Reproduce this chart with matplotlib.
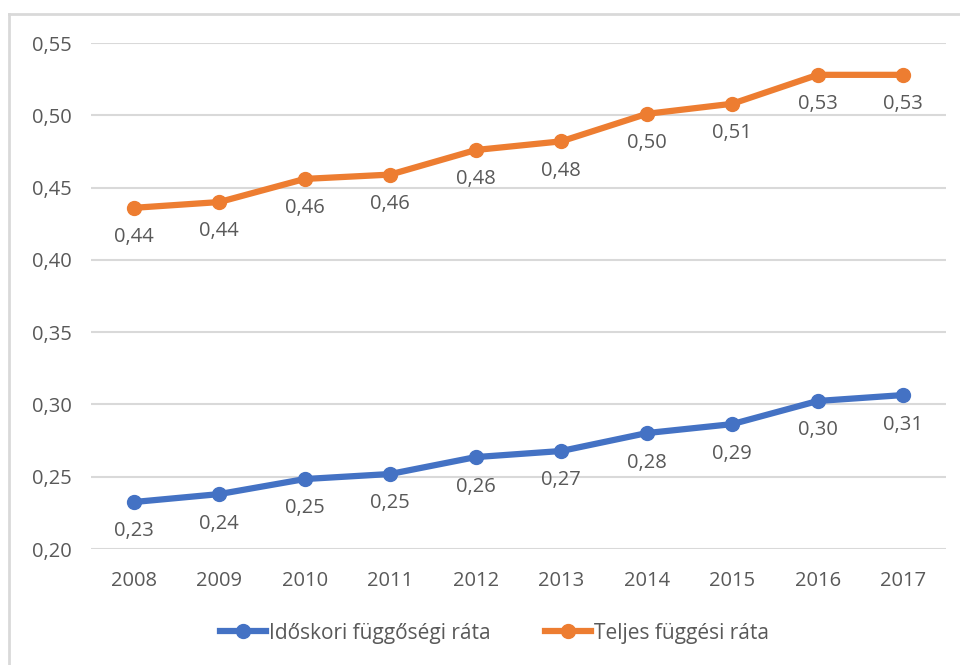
import matplotlib.pyplot as plt
from matplotlib.lines import Line2D

plt.rcParams['font.family'] = ['Open Sans', 'DejaVu Sans']

years = ['2008', '2009', '2010', '2011', '2012', '2013', '2014', '2015', '2016', '2017']
idoskori = [0.2325, 0.238, 0.2484, 0.2519, 0.2636, 0.2678, 0.2802, 0.2864, 0.3024, 0.3065]
teljes = [0.436, 0.440, 0.456, 0.459, 0.476, 0.482, 0.501, 0.508, 0.528, 0.528]
series_names = ['Időskori függőségi ráta', 'Teljes függési ráta']

blue = '#4472C4'
orange = '#ED7D31'
text_col = '#595959'
fs = 14.5

fig = plt.figure(figsize=(9.6, 6.65), dpi=100)
ax = fig.add_axes([0.0948, 0.1744, 0.8906, 0.7609])

x = list(range(len(years)))
for vals, col in [(idoskori, blue), (teljes, orange)]:
    ax.plot(x, vals, color=col, lw=4.5, marker='o', ms=10, solid_capstyle='round', zorder=3)
    for xi, v in zip(x, vals):
        ax.annotate(f'{v:.2f}'.replace('.', ','), (xi, v), xytext=(0, -14),
                    textcoords='offset points', ha='center', va='top',
                    fontsize=fs, color=text_col)

ax.set_xlim(-0.5, len(years) - 0.5)
ax.set_ylim(0.20, 0.55)
ax.set_yticks([0.20, 0.25, 0.30, 0.35, 0.40, 0.45, 0.50, 0.55])
ax.set_yticklabels([f'{t:.2f}'.replace('.', ',') for t in ax.get_yticks()])
ax.set_xticks(x)
ax.set_xticklabels(years)
ax.tick_params(length=0, labelsize=fs, labelcolor=text_col)
ax.tick_params(axis='y', pad=14)
ax.tick_params(axis='x', pad=16)
ax.grid(axis='y', color='#d9d9d9', lw=1.5)
ax.set_axisbelow(True)
for s in ax.spines.values():
    s.set_visible(False)

handles = [Line2D([], [], color=blue, lw=4.5, marker='o', ms=10),
           Line2D([], [], color=orange, lw=4.5, marker='o', ms=10)]
fig.legend(handles, series_names, loc='center', bbox_to_anchor=(0.515, 0.048), ncol=2,
           frameon=False, fontsize=15, labelcolor=text_col, handlelength=2.2,
           handletextpad=0.15, columnspacing=2.6)

# light frame: top and left edges only
fig.add_artist(Line2D([9 / 960, 1], [1 - 14 / 665] * 2, color='#d9d9d9', lw=2, transform=fig.transFigure))
fig.add_artist(Line2D([9 / 960] * 2, [0, 1 - 14 / 665], color='#d9d9d9', lw=2, transform=fig.transFigure))

fig.savefig('out.png', dpi=100)
